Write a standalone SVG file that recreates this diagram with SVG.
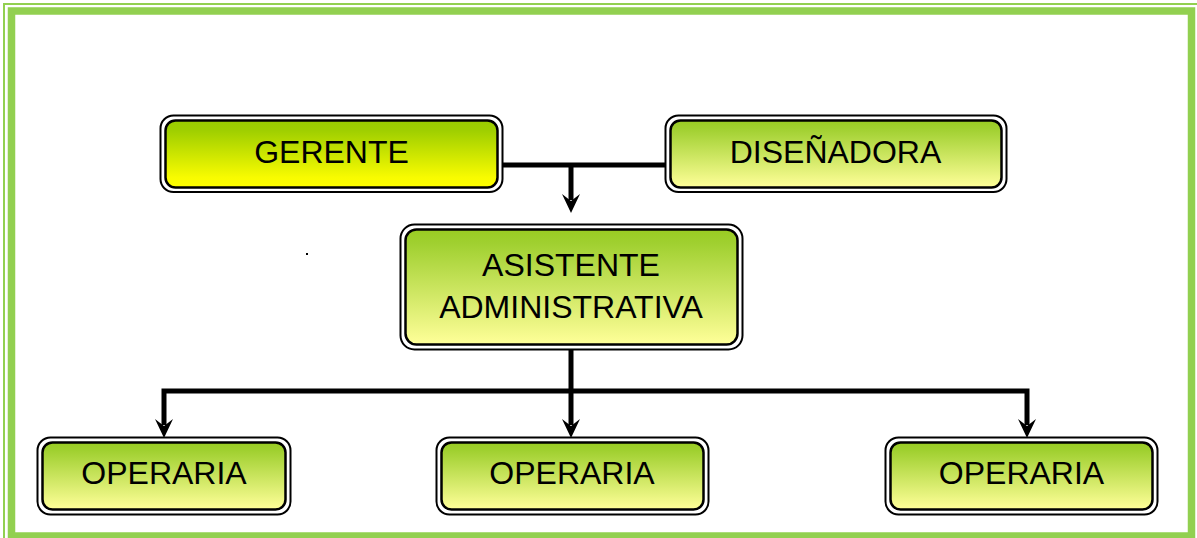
<svg xmlns="http://www.w3.org/2000/svg" width="1197" height="538" viewBox="0 0 1197 538">
<defs>
<linearGradient id="gY" x1="0" y1="0" x2="0" y2="1">
<stop offset="0" stop-color="#99cc00"/>
<stop offset="0.15" stop-color="#9fcf00"/>
<stop offset="0.85" stop-color="#f8fb00"/>
<stop offset="1" stop-color="#ffff00"/>
</linearGradient>
<linearGradient id="gL" x1="0" y1="0" x2="0" y2="1">
<stop offset="0" stop-color="#99cc22"/>
<stop offset="0.12" stop-color="#a0d030"/>
<stop offset="1" stop-color="#ffff99"/>
</linearGradient>
<path id="ah" d="M0,0 L-9,-19 L0,-12 L9,-19 Z" fill="#000"/>
<style>
.outer{fill:#fff;stroke:#000;stroke-width:2}
.inner{stroke:#000;stroke-width:2.5}
.t{font-family:"Liberation Sans",Arial,sans-serif;font-size:32px;fill:#000;text-anchor:middle}
.c{fill:none;stroke:#000;stroke-width:5}
</style>
</defs>
<rect x="0" y="0" width="1197" height="538" fill="#fff"/>
<g id="frame">
<rect x="4" y="4" width="1200" height="540" fill="none" stroke="#92d050" stroke-width="2"/>
<rect x="11.5" y="11" width="1180" height="525" fill="none" stroke="#92d050" stroke-width="7.5"/>
</g>
<g id="connectors">
<path class="c" d="M500,165 H666"/>
<path class="c" d="M571,165 V200"/>
<use href="#ah" x="571" y="213"/>
<path class="c" d="M571,349 V425"/>
<use href="#ah" x="571" y="438"/>
<path class="c" d="M164,425 V391 H1027 V425"/>
<use href="#ah" x="164" y="438"/>
<use href="#ah" x="1027" y="438"/>
</g>
<g id="gerente">
<rect class="outer" x="160.5" y="115.5" width="342" height="76.5" rx="13"/>
<rect class="inner" fill="url(#gY)" x="165.5" y="120.5" width="332" height="67" rx="10"/>
<text class="t" x="331.5" y="163">GERENTE</text>
</g>
<g id="disenadora">
<rect class="outer" x="665.5" y="115.5" width="341" height="76.5" rx="13"/>
<rect class="inner" fill="url(#gL)" x="670.5" y="120.5" width="331" height="67" rx="10"/>
<text class="t" x="835.5" y="163">DISEÑADORA</text>
</g>
<g id="asistente">
<rect class="outer" x="400.5" y="224.5" width="342" height="125" rx="14"/>
<rect class="inner" fill="url(#gL)" x="405.5" y="229.5" width="332" height="115" rx="11"/>
<text class="t" x="571" y="276">ASISTENTE</text>
<text class="t" x="571" y="318">ADMINISTRATIVA</text>
</g>
<g id="operaria1">
<rect class="outer" x="37.5" y="437.5" width="253" height="77" rx="13"/>
<rect class="inner" fill="url(#gL)" x="42.5" y="442.5" width="243" height="67" rx="10"/>
<text class="t" x="164" y="484">OPERARIA</text>
</g>
<g id="operaria2">
<rect class="outer" x="436.5" y="437.5" width="272" height="77" rx="13"/>
<rect class="inner" fill="url(#gL)" x="441.5" y="442.5" width="262" height="67" rx="10"/>
<text class="t" x="572" y="484">OPERARIA</text>
</g>
<g id="operaria3">
<rect class="outer" x="885.5" y="437.5" width="272" height="77" rx="13"/>
<rect class="inner" fill="url(#gL)" x="890.5" y="442.5" width="262" height="67" rx="10"/>
<text class="t" x="1021.5" y="484">OPERARIA</text>
</g>
<rect x="306" y="253" width="2" height="2" fill="#000"/>
</svg>
